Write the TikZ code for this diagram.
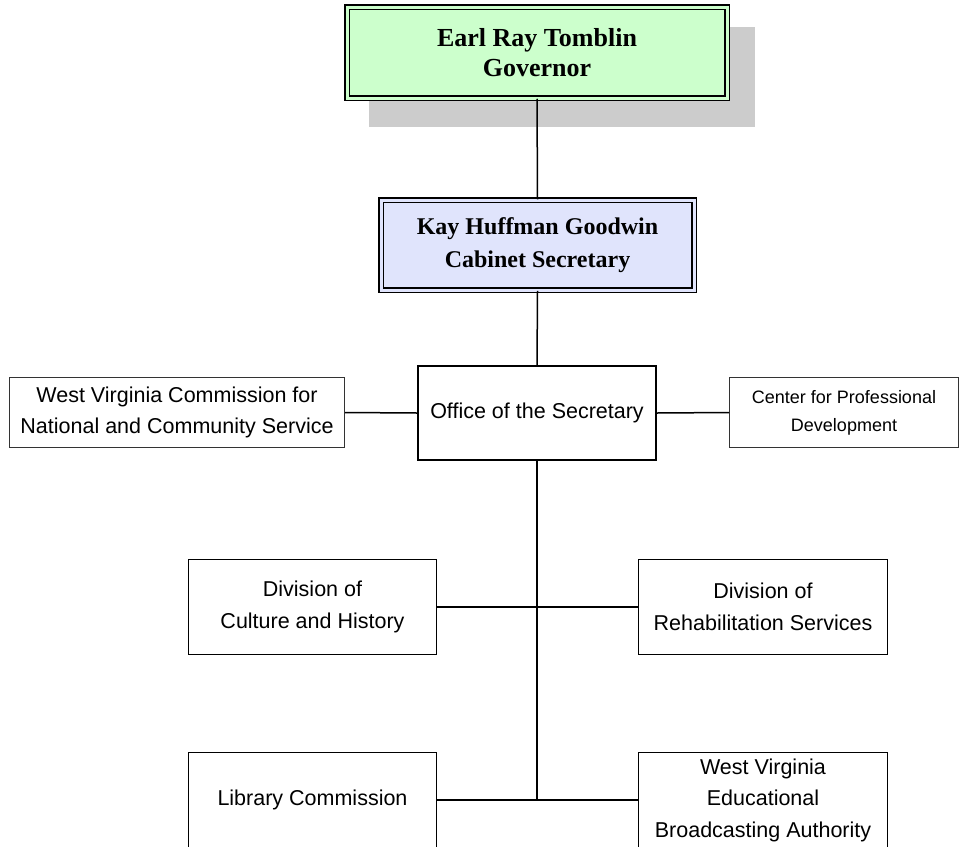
\documentclass[tikz,border=0pt]{standalone}
\usepackage{fontspec}
\setmainfont{Liberation Serif}
\setsansfont{Liberation Sans}
\usetikzlibrary{backgrounds}
\definecolor{colorgov}   {RGB}{204,255,204}
\definecolor{colorsec}   {RGB}{224,228,252}
\definecolor{colorshadow}{RGB}{204,204,204}

\begin{document}
\begin{tikzpicture}[
    x=1pt, y=-1pt,
    chief/.style={font={\fontsize{26}{31}\selectfont\bfseries},align=center,rectangle,draw,line width=1.5pt,double distance=3pt,inner sep=0pt},
    unit/.style={font={\sffamily\fontsize{21.5}{31.5}\selectfont},align=center,rectangle,draw,line width=1.3pt,inner sep=0pt},
    side/.style={unit,draw=black!80,line width=1pt},
    link/.style={line width=1.5pt},
]
    \useasboundingbox (0,0) rectangle (960,846);

    % Heads
    \node[chief, fill=colorgov, double=colorgov, minimum width=380pt, minimum height=91pt]
          (governor) at (537,52.5) {Earl Ray Tomblin\\[-1pt]Governor};
    \node[chief, fill=colorsec, double=colorsec, minimum width=313pt, minimum height=90pt,
          font={\fontsize{24}{33}\selectfont\bfseries}]
          (secretary) at (537.5,245) {Kay Huffman Goodwin\\Cabinet Secretary};

    % Office and its neighbours
    \node[unit, minimum width=238pt, minimum height=94pt] (office) at (537,413) {Office of the Secretary};
    \node[side, minimum width=335pt, minimum height=70pt] (commission) at (177,412.5)
          {West Virginia Commission for\\National and Community Service};
    \node[side, minimum width=229pt, minimum height=70pt, font={\sffamily\fontsize{18}{28}\selectfont}]
          (center) at (844,412.5) {Center for Professional\\Development};

    % Divisions
    \node[unit, minimum width=248pt, minimum height=95pt] (culture) at (312.5,607) {Division of\\Culture and History};
    \node[unit, minimum width=249pt, minimum height=95pt] (rehab) at (763,607) {Division of\\Rehabilitation Services};
    \node[unit, minimum width=248pt, minimum height=95pt] (library) at (312.5,800) {Library Commission};
    \node[unit, minimum width=249pt, minimum height=95pt] (broadcast) at (763,800)
          {West Virginia\\Educational\\Broadcasting Authority};

    % Shadow of the governor box
    \begin{scope}[on background layer]
        \fill[colorshadow] ([shift={(23,21)}]governor.north west) rectangle ([shift={(27,28)}]governor.south east);
    \end{scope}

    % Lines
    \draw[link] (governor.south) -- (secretary.north);
    \draw[link] (secretary.south) -- (office.north);
    \draw[link] (office.west) -- (commission.east);
    \draw[link] (office.east) -- (center.west);
    \draw[link,line width=2pt] (office.south) -- (office.south |- library.east);
    \draw[link] (culture.east) -- (rehab.west);
    \draw[link] (library.east) -- (broadcast.west);

\end{tikzpicture}
\end{document}
